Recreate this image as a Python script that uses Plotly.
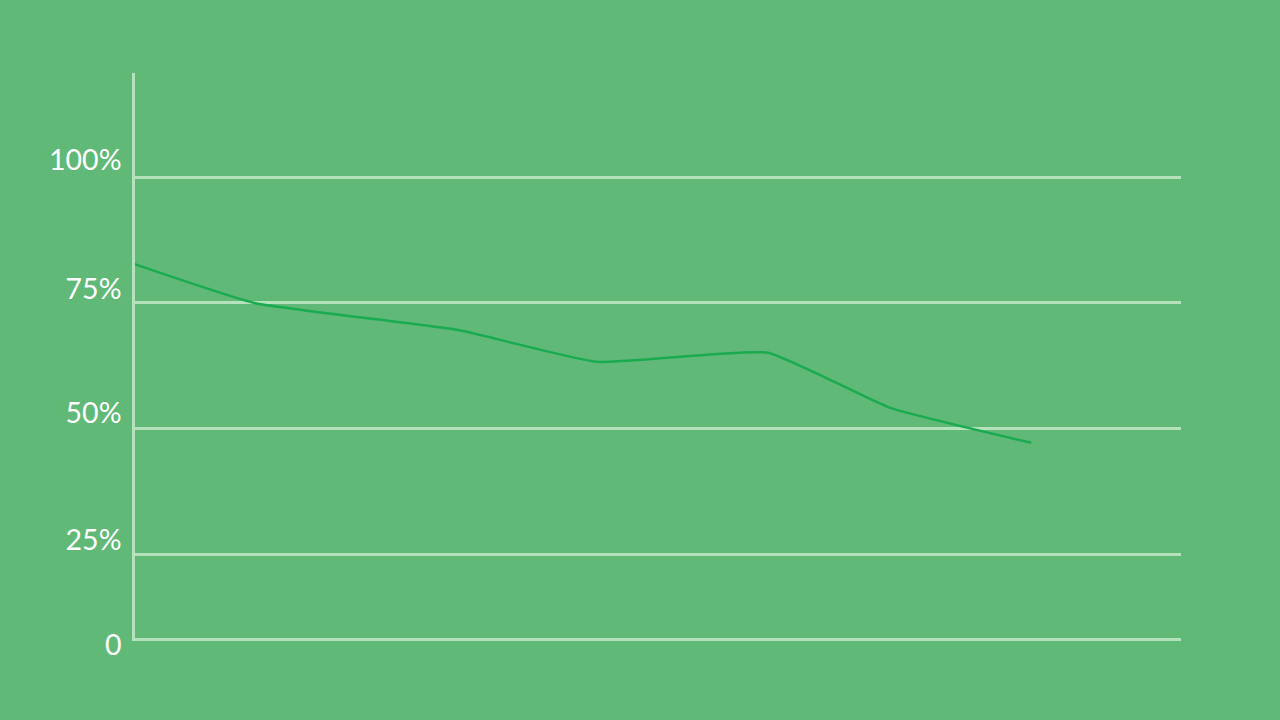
import plotly.graph_objects as go

# Data (x as relative position along axis 0-100, y in percent)
x_pos = [0, 11.45, 30.92, 44.18, 60.5, 72.14, 85.69]
y_vals = [82.7, 75.0, 69.6, 63.3, 65.1, 54.2, 47.2]

grid_vals = [25, 50, 75, 100]
label_text = ["0", "25%", "50%", "75%", "100%"]
label_pos = [7.1, 28.0, 53.2, 77.8, 103.4]

BG = "#60b976"
GRID = "#b3e2bc"
LINE = "#1aab4f"

X0 = 134.5 / 1280
X1 = 1181 / 1280

fig = go.Figure()
fig.add_trace(go.Scatter(
    x=x_pos, y=y_vals, mode="lines",
    line=dict(color=LINE, width=2.5, shape="spline", smoothing=0.4),
    hoverinfo="skip", showlegend=False,
))
# invisible trace to attach the label axis
fig.add_trace(go.Scatter(x=[None], y=[None], xaxis="x2", yaxis="y2",
                         showlegend=False, hoverinfo="skip"))

fig.update_layout(
    width=1280, height=720,
    paper_bgcolor=BG, plot_bgcolor="rgba(0,0,0,0)",
    margin=dict(l=0, r=0, t=0, b=0),
    font=dict(family="Lato, 'Open Sans', sans-serif", color="white", size=28),
    xaxis=dict(
        domain=[X0, X1], range=[0, 100],
        showgrid=False, zeroline=False, showticklabels=False, ticks="",
        showline=True, linecolor=GRID, linewidth=2.5,
        anchor="y",
    ),
    yaxis=dict(
        domain=[(720-637.5)/720, (720-72.5)/720], range=[8.5, 120.8],
        tickvals=grid_vals, showticklabels=False, ticks="",
        showgrid=True, gridcolor=GRID, gridwidth=2.5,
        zeroline=False, showline=True, linecolor=GRID, linewidth=3,
        anchor="x",
    ),
    xaxis2=dict(
        domain=[X0, X1], range=[0, 100], visible=False, anchor="y2",
    ),
    yaxis2=dict(
        domain=[0, 1], range=[-7.77, 135.1], anchor="x2",
        tickvals=label_pos, ticktext=label_text,
        showgrid=False, zeroline=False, showline=False, ticks="",
        ticklabelstandoff=12,
        tickfont=dict(size=28.5, color="white", family="Lato, 'Open Sans', sans-serif"),
    ),
)
fig.write_html("out.html", config={"displayModeBar": False},
               post_script="document.body.style.margin='0';")
